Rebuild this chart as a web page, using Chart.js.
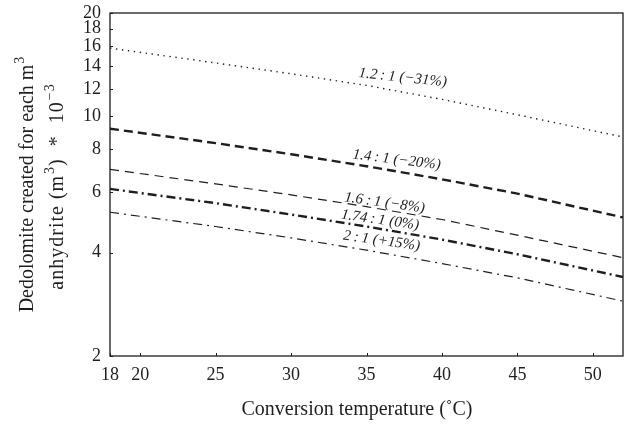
<!DOCTYPE html>
<html>
<head>
<meta charset="utf-8">
<script src="https://cdn.jsdelivr.net/npm/chart.js@4.4.1/dist/chart.umd.min.js"></script>
<style>
  html, body { margin: 0; padding: 0; background: #fff; }
  #wrap { width: 633px; height: 426px; }
</style>
</head>
<body>
<div id="wrap"><canvas id="chart" width="633" height="426"></canvas></div>
<script>
// conversion temperature (deg C)
var temps = [18, 25, 30, 35, 40, 45, 52];
// dedolomite per m3 anhydrite, *10^-3, one array per volume ratio
var ratio12 = [15.8, 14.3, 13.3, 12.3, 11.2, 10.1, 8.7];
var ratio14 = [9.2, 8.35, 7.75, 7.15, 6.55, 5.95, 5.07];
var ratio16 = [7.0, 6.35, 5.9, 5.45, 5.0, 4.5, 3.87];
var ratio174 = [6.14, 5.58, 5.17, 4.77, 4.37, 3.96, 3.4];
var ratio2 = [5.25, 4.77, 4.42, 4.07, 3.72, 3.38, 2.89];

var xTicks = [18, 20, 25, 30, 35, 40, 45, 50];
var yTicks = [2, 4, 6, 8, 10, 12, 14, 16, 18, 20];

var seriesNames = ['1.2\u2009:\u20091 (\u221231%)', '1.4\u2009:\u20091 (\u221220%)', '1.6\u2009:\u20091 (\u22128%)', '1.74\u2009:\u20091 (0%)', '2\u2009:\u20091 (+15%)'];
// where each curve label sits (temperature, value) and its tilt
var labelAt = [[37.4, 12.95, 6], [37.0, 7.46, 7], [36.2, 5.59, 8], [35.9, 4.98, 8], [36.0, 4.33, 8]];

var xTitle = 'Conversion temperature (\u02DAC)';
// y title pieces: [text, superscript?]
var yTitle1 = [['Dedolomite created for each m', false], ['3', true]];
var yTitle2 = [['anhydrite (m', false], ['3', true], [')', false], ['  *  ', false], ['10', false], ['\u22123', true]];

var ink = '#1e1e1e';
var serif = '"Liberation Serif", "DejaVu Serif", serif';

function pts(ys) {
    return temps.map(function (t, i) { return { x: t, y: ys[i] }; });
}

function line(name, ys, width, dash) {
    return {
        label: name,
        data: pts(ys),
        borderColor: ink,
        borderWidth: width,
        borderDash: dash,
        pointRadius: 0,
        fill: false,
        tension: 0
    };
}

// draw a run of text with superscripts, centred on (0,0) of the current transform
function drawRich(ctx, parts, size) {
    var big = size + 'px ' + serif, small = Math.round(size * 0.7) + 'px ' + serif;
    var w = 0;
    parts.forEach(function (p) {
        ctx.font = p[1] ? small : big;
        w += ctx.measureText(p[0]).width + (p[1] ? 1 : 0);
    });
    var x = -w / 2;
    parts.forEach(function (p) {
        ctx.font = p[1] ? small : big;
        ctx.fillText(p[0], x + (p[1] ? 1 : 0), p[1] ? -size * 0.4 : 0);
        x += ctx.measureText(p[0]).width + (p[1] ? 1 : 0);
    });
}

var framePlugin = {
    id: 'frame',
    afterDraw: function (chart) {
        var ctx = chart.ctx;
        var a = chart.chartArea;
        var xs = chart.scales.x, ys = chart.scales.y;
        ctx.save();
        ctx.strokeStyle = ink;
        ctx.lineWidth = 1.3;
        ctx.strokeRect(a.left, a.top, a.right - a.left, a.bottom - a.top);
        ctx.lineWidth = 1;
        ctx.beginPath();
        xTicks.forEach(function (v) {
            var px = Math.round(xs.getPixelForValue(v)) + 0.5;
            ctx.moveTo(px, a.bottom);
            ctx.lineTo(px, a.bottom - 3);
        });
        yTicks.forEach(function (v) {
            var py = Math.round(ys.getPixelForValue(v)) + 0.5;
            ctx.moveTo(a.left, py);
            ctx.lineTo(a.left + 3, py);
        });
        ctx.stroke();

        ctx.fillStyle = ink;
        ctx.font = 'italic 15px ' + serif;
        ctx.textAlign = 'center';
        ctx.textBaseline = 'middle';
        labelAt.forEach(function (l, i) {
            ctx.save();
            ctx.translate(xs.getPixelForValue(l[0]), ys.getPixelForValue(l[1]));
            ctx.rotate(l[2] * Math.PI / 180);
            ctx.fillText(seriesNames[i], 0, 0);
            ctx.restore();
        });

        // axis titles
        ctx.font = '20px ' + serif;
        ctx.fillText(xTitle, 357, 410);

        ctx.textAlign = 'left';
        var cy = (a.top + a.bottom) / 2;
        ctx.save();
        ctx.translate(28, cy);
        ctx.rotate(-Math.PI / 2);
        drawRich(ctx, yTitle1, 20);
        ctx.restore();
        ctx.save();
        ctx.translate(58, cy + 2);
        ctx.rotate(-Math.PI / 2);
        ctx.letterSpacing = '1px';
        drawRich(ctx, yTitle2, 20);
        ctx.restore();
        ctx.restore();
    }
};

var chart = new Chart(document.getElementById('chart'), {
    type: 'line',
    data: {
        datasets: [
            line(seriesNames[0], ratio12, 1.4, [1.4, 4.6]),
            line(seriesNames[1], ratio14, 2.4, [9, 5]),
            line(seriesNames[2], ratio16, 1.2, [9, 6]),
            line(seriesNames[3], ratio174, 2.4, [9, 4, 2, 4]),
            line(seriesNames[4], ratio2, 1.2, [9, 5, 2, 5])
        ]
    },
    options: {
        responsive: false,
        devicePixelRatio: 1,
        animation: false,
        layout: { padding: { top: 13, right: 10, left: 0, bottom: 0 } },
        plugins: {
            legend: { display: false },
            tooltip: { enabled: false }
        },
        scales: {
            x: {
                type: 'linear',
                min: 18,
                max: 52,
                afterBuildTicks: function (scale) {
                    scale.ticks = xTicks.map(function (v) { return { value: v }; });
                },
                afterFit: function (scale) { scale.height = 70; },
                grid: { display: false, drawTicks: true, tickLength: 8 },
                border: { display: false },
                ticks: {
                    autoSkip: false,
                    maxRotation: 0,
                    padding: 0,
                    color: ink,
                    font: { family: serif, size: 18 },
                    callback: function (v) { return String(v); }
                }
            },
            y: {
                type: 'logarithmic',
                min: 2,
                max: 20,
                afterBuildTicks: function (scale) {
                    scale.ticks = yTicks.map(function (v) { return { value: v }; });
                },
                afterFit: function (scale) { scale.width = 110; },
                grid: { display: false, drawTicks: true, tickLength: 8 },
                border: { display: false },
                ticks: {
                    autoSkip: false,
                    padding: 1,
                    color: ink,
                    font: { family: serif, size: 18 },
                    callback: function (v) { return String(v); }
                }
            }
        }
    },
    plugins: [framePlugin]
});
</script>
</body>
</html>
